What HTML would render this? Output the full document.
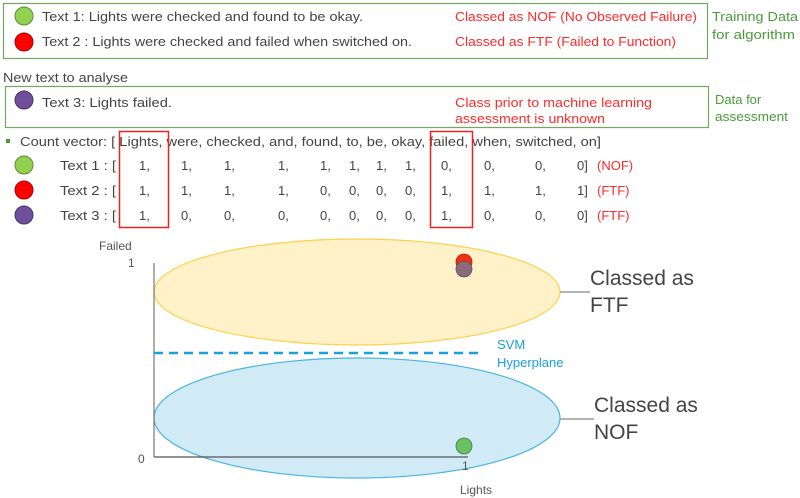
<!DOCTYPE html>
<html><head><meta charset="utf-8"><style>
html,body{margin:0;padding:0;background:#fff;}
svg{display:block;font-family:"Liberation Sans","DejaVu Sans",sans-serif;}
</style></head><body>
<svg width="800" height="498" viewBox="0 0 800 498" xmlns="http://www.w3.org/2000/svg">
<rect x="3.5" y="3.5" width="704" height="55" fill="none" stroke="#70a860" stroke-width="1.2"/>
<rect x="5.5" y="86.5" width="703" height="41" fill="none" stroke="#70a860" stroke-width="1.2"/>
<g font-size="13" fill="#444" lengthAdjust="spacingAndGlyphs">
<circle cx="24" cy="16" r="9" fill="#92d050" stroke="#5e8a38"/>
<text x="42" y="21" textLength="321" lengthAdjust="spacingAndGlyphs">Text 1: Lights were checked and found to be okay.</text>
<circle cx="24" cy="42" r="9" fill="#f00" stroke="#a00"/>
<text x="42" y="46" textLength="370" lengthAdjust="spacingAndGlyphs">Text 2 : Lights were checked and failed when switched on.</text>
<text x="3" y="82" textLength="125" lengthAdjust="spacingAndGlyphs">New text to analyse</text>
<circle cx="24" cy="100" r="9" fill="#6f4f9a" stroke="#4a3270"/>
<text x="42" y="107" textLength="130" lengthAdjust="spacingAndGlyphs">Text 3: Lights failed.</text>
</g>
<g font-size="13" fill="#ff2a2a">
<text x="455" y="21" textLength="242" lengthAdjust="spacingAndGlyphs">Classed as NOF (No Observed Failure)</text>
<text x="455" y="46" textLength="221" lengthAdjust="spacingAndGlyphs">Classed as FTF (Failed to Function)</text>
<text x="455" y="107" textLength="197" lengthAdjust="spacingAndGlyphs">Class prior to machine learning</text>
<text x="455" y="123" textLength="150" lengthAdjust="spacingAndGlyphs">assessment is unknown</text>
</g>
<g font-size="13" fill="#4a9a3a">
<text x="712" y="21" textLength="86" lengthAdjust="spacingAndGlyphs">Training Data</text>
<text x="712" y="39" textLength="83" lengthAdjust="spacingAndGlyphs">for algorithm</text>
<text x="715" y="104">Data for</text>
<text x="715" y="121" textLength="73" lengthAdjust="spacingAndGlyphs">assessment</text>
</g>
<rect x="6" y="139" width="4" height="4" fill="#4a9a3a"/>
<g font-size="13" fill="#444">
<text x="20" y="146" textLength="581" lengthAdjust="spacingAndGlyphs">Count vector: [ Lights, were, checked, and, found, to, be, okay, failed, when, switched, on]</text>
<circle cx="24" cy="165" r="9" fill="#92d050" stroke="#5e8a38"/>
<circle cx="24" cy="190" r="9" fill="#f00" stroke="#a00"/>
<circle cx="24" cy="215" r="9" fill="#6f4f9a" stroke="#4a3270"/>
<text x="60" y="170" textLength="56" lengthAdjust="spacingAndGlyphs">Text 1 : [</text>
<text x="60" y="195" textLength="56" lengthAdjust="spacingAndGlyphs">Text 2 : [</text>
<text x="60" y="220" textLength="56" lengthAdjust="spacingAndGlyphs">Text 3 : [</text>
<g>
<text y="170"><tspan x="139">1,</tspan><tspan x="181">1,</tspan><tspan x="224">1,</tspan><tspan x="278">1,</tspan><tspan x="320">1,</tspan><tspan x="349">1,</tspan><tspan x="376">1,</tspan><tspan x="405">1,</tspan><tspan x="441">0,</tspan><tspan x="484">0,</tspan><tspan x="535">0,</tspan><tspan x="577">0]</tspan></text>
<text y="195"><tspan x="139">1,</tspan><tspan x="181">1,</tspan><tspan x="224">1,</tspan><tspan x="278">1,</tspan><tspan x="320">0,</tspan><tspan x="349">0,</tspan><tspan x="376">0,</tspan><tspan x="405">0,</tspan><tspan x="441">1,</tspan><tspan x="484">1,</tspan><tspan x="535">1,</tspan><tspan x="577">1]</tspan></text>
<text y="220"><tspan x="139">1,</tspan><tspan x="181">0,</tspan><tspan x="224">0,</tspan><tspan x="278">0,</tspan><tspan x="320">0,</tspan><tspan x="349">0,</tspan><tspan x="376">0,</tspan><tspan x="405">0,</tspan><tspan x="441">1,</tspan><tspan x="484">0,</tspan><tspan x="535">0,</tspan><tspan x="577">0]</tspan></text>
</g>
</g>
<g font-size="13" fill="#ff2a2a">
<text x="597" y="170">(NOF)</text>
<text x="597" y="195">(FTF)</text>
<text x="597" y="220">(FTF)</text>
</g>
<rect x="119.5" y="131.5" width="49" height="96" fill="none" stroke="#ee2020" stroke-width="1.5"/>
<rect x="430.5" y="131.5" width="42" height="96" fill="none" stroke="#ee2020" stroke-width="1.5"/>

<ellipse cx="357" cy="292" rx="203" ry="53" fill="#fff2c8" stroke="#ffd04a" stroke-width="1.2"/>
<ellipse cx="357" cy="418" rx="203" ry="60" fill="#cdeaf6" fill-opacity="0.95" stroke="#4ab4e0" stroke-width="1.2"/>
<line x1="154" y1="263" x2="154" y2="457" stroke="#777" stroke-width="1.2"/>
<line x1="154" y1="457" x2="468" y2="457" stroke="#555" stroke-width="1.2"/>
<line x1="154" y1="353" x2="480" y2="353" stroke="#1aa0dc" stroke-width="2.5" stroke-dasharray="9,6"/>
<line x1="560" y1="292" x2="590" y2="292" stroke="#888" stroke-width="1.2"/>
<line x1="560" y1="419" x2="594" y2="419" stroke="#888" stroke-width="1.2"/>
<circle cx="464" cy="262" r="8" fill="#f03010" stroke="#b02000" stroke-width="0.8"/>
<circle cx="464" cy="269" r="8" fill="#8a6a78" stroke="#6a4a58" stroke-width="0.8"/>
<circle cx="464" cy="446" r="8" fill="#6cc060" stroke="#3f7a38" stroke-width="0.8"/>
<g fill="#555" font-size="12">
<text x="99" y="250">Failed</text>
<text x="128" y="267">1</text>
<text x="138" y="463">0</text>
<text x="462" y="470">1</text>
<text x="460" y="494">Lights</text>
</g>
<g fill="#1aa0dc" font-size="13">
<text x="497" y="349">SVM</text>
<text x="497" y="367">Hyperplane</text>
</g>
<g fill="#444" font-size="21">
<text x="590" y="285">Classed as</text>
<text x="590" y="312">FTF</text>
<text x="594" y="412">Classed as</text>
<text x="594" y="439">NOF</text>
</g>
</svg>
</body></html>
